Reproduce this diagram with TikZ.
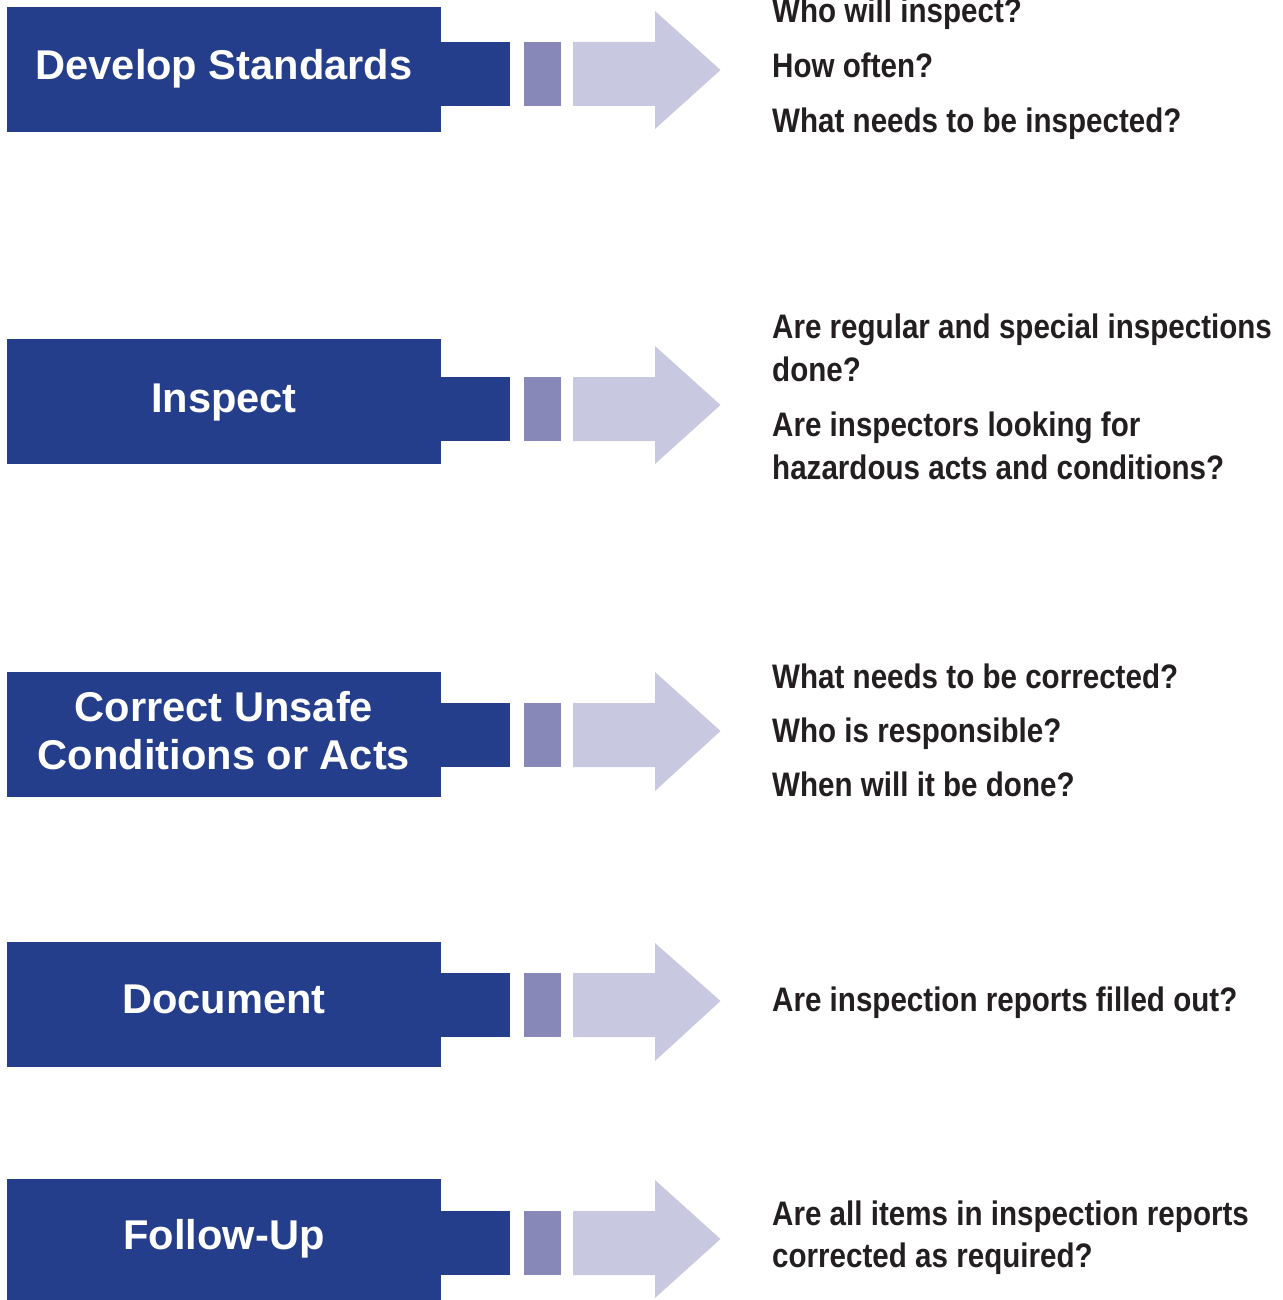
\documentclass[tikz,border=0pt]{standalone}
\usepackage{fontspec}
\setmainfont{Liberation Sans}
\newfontfamily\labelfont{Liberation Sans}
\newfontfamily\askfont[FakeStretch=0.87]{Liberation Sans}

\definecolor{stepnavy}{HTML}{253E8B}
\definecolor{steplilac}{HTML}{8787B8}
\definecolor{steppale}{HTML}{C8C8E0}
\definecolor{asktext}{HTML}{231F20}

\tikzset{
  stepbox/.style={fill=stepnavy, draw=none},
  stepbar/.style={fill=stepnavy, draw=none},
  stepsquare/.style={fill=steplilac, draw=none},
  steparrow/.style={fill=steppale, draw=none},
  steplabel/.style={anchor=base, inner sep=0pt, text=white,
    font=\labelfont\bfseries\fontsize{41.6}{48}\selectfont},
  askline/.style={anchor=base west, inner sep=0pt, text=asktext,
    font=\askfont\bfseries\fontsize{34}{43}\selectfont}
}

\begin{document}
\begin{tikzpicture}[x=1pt, y=-1pt]
\useasboundingbox (0,0) rectangle (1282,1300);

% each step: box top/bottom, bar top/bottom, arrow head top, tip, head bottom
\foreach \i/\bt/\bb/\rt/\rb/\ha/\ty/\hb in {
    1/7/132/42/106/11/70/129,
    2/339/464/377/441/346/405/464,
    3/672/797/703/767/672/731/791,
    4/942/1067/973/1037/943/1001/1061,
    5/1179/1300/1211/1275/1180/1239/1298}{
  \fill[stepbox] (7,\bt) rectangle (441,\bb);
  \fill[stepbar] (441,\rt) rectangle (510,\rb);
  \fill[stepsquare] (524,\rt) rectangle (561,\rb);
  \fill[steparrow] (573,\rt) -- (655,\rt) -- (655,\ha) -- (720.5,\ty)
    -- (655,\hb) -- (655,\rb) -- (573,\rb) -- cycle;
}

% step names
\node[steplabel] (s1) at (224,80) {Develop Standards};
\node[steplabel] (s2) at (224,412) {Inspect};
\node[steplabel] (s3a) at (224,721) {Correct Unsafe};
\node[steplabel] (s3b) at (224,769) {Conditions or Acts};
\node[steplabel] (s4) at (224,1013) {Document};
\node[steplabel] (s5) at (224,1249) {Follow-Up};

% questions for each step
\node[askline] (q1a) at (772,23) {Who will inspect?};
\node[askline] (q1b) at (772,78) {How often?};
\node[askline] (q1c) at (772,133) {What needs to be inspected?};

\node[askline] (q2a) at (772,338) {Are regular and special inspections};
\node[askline] (q2b) at (772,381) {done?};
\node[askline] (q2c) at (772,436) {Are inspectors looking for};
\node[askline] (q2d) at (772,479) {hazardous acts and conditions?};

\node[askline] (q3a) at (772,688) {What needs to be corrected?};
\node[askline] (q3b) at (772,742) {Who is responsible?};
\node[askline] (q3c) at (772,796) {When will it be done?};

\node[askline] (q4a) at (772,1011) {Are inspection reports filled out?};

\node[askline] (q5a) at (772,1225) {Are all items in inspection reports};
\node[askline] (q5b) at (772,1267) {corrected as required?};
\end{tikzpicture}
\end{document}
